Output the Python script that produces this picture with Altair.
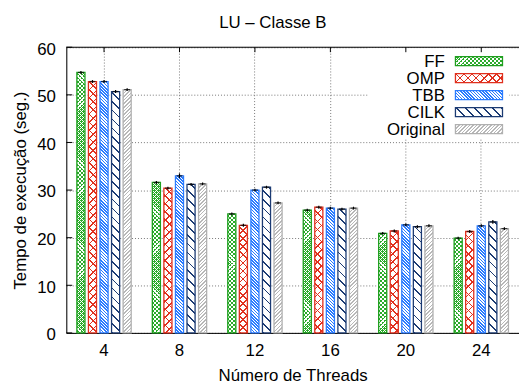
import altair as alt
import pandas as pd

# ---------------- data ----------------
threads = [4, 8, 12, 16, 20, 24]
series = ["FF", "OMP", "TBB", "CILK", "Original"]
ff_vals = [54.7, 31.6, 25.0, 25.8, 20.9, 19.9]
omp_vals = [52.8, 30.4, 22.6, 26.4, 21.4, 21.3]
tbb_vals = [52.8, 33.0, 30.0, 26.2, 22.7, 22.5]
cilk_vals = [50.7, 31.2, 30.6, 26.0, 22.3, 23.3]
orig_vals = [51.1, 31.3, 27.3, 26.2, 22.5, 21.9]
ff_err = [0.3, 0.3, 0.3, 0.3, 0.3, 0.3]
omp_err = [0.3, 0.3, 0.3, 0.3, 0.3, 0.3]
tbb_err = [0.3, 0.5, 0.3, 0.3, 0.3, 0.3]
cilk_err = [0.3, 0.3, 0.3, 0.3, 0.3, 0.4]
orig_err = [0.3, 0.3, 0.3, 0.3, 0.3, 0.3]
y_ticks = [0, 10, 20, 30, 40, 50, 60]
title_text = "LU – Classe B"

vals = {"FF": ff_vals, "OMP": omp_vals, "TBB": tbb_vals, "CILK": cilk_vals, "Original": orig_vals}
errs = {"FF": ff_err, "OMP": omp_err, "TBB": tbb_err, "CILK": cilk_err, "Original": orig_err}

rows = []
for s in series:
    for t, v, e in zip(threads, vals[s], errs[s]):
        rows.append({"series": s, "threads": t, "value": v, "lo": v - e, "hi": v + e})
df = pd.DataFrame(rows)

# ---------------- styling ----------------
FONT = "Liberation Sans, Arial, Helvetica, sans-serif"
W, H = 458, 289
YMAX = 60
PX = H / YMAX
PI_X, PI_O = 0.28, 0.3
step = W / 6
band = step * (1 - PI_X)
BW = band / (5 - PI_O) * (1 - PI_O)

CLEAR = "rgba(255,255,255,0)"
line_col = {"FF": "#1f9f1f", "OMP": "#e0301e", "TBB": "#2a7bff", "CILK": "#1c3b73", "Original": "#b0b0b0"}
base_col = {"FF": "#2bab2b", "OMP": "white", "TBB": "white", "CILK": "white", "Original": "white"}
patterns = {
    "FF": [("/", 4.0, 1.1, "white"), ("\\", 4.0, 1.1, "white")],
    "OMP": [("/", 8.2, 1.6, "#e0301e"), ("\\", 8.2, 1.6, "#e0301e")],
    "TBB": [("\\", 3.2, 1.6, "#2a7bff")],
    "CILK": [("\\", 9.0, 1.7, "#1c3b73")],
    "Original": [("/", 3.6, 1.5, "#b8b8b8")],
}


def stripes(w, h, d, s, t, color):
    r = h / w
    k = (1 + r) / (1 + r * r)
    if d == "/":
        x1, y1, x2, y2 = 0, 0, k, r * k
    else:
        x1, y1, x2, y2 = 0, 1, k, 1 - r * k
    n = (w + h) / s
    f = t / s
    stops = []
    i = 0
    while i / n < 1:
        a = round(i / n, 5)
        b = round(min((i + f) / n, 1), 5)
        stops += [{"offset": a, "color": CLEAR}, {"offset": a, "color": color},
                  {"offset": b, "color": color}, {"offset": b, "color": CLEAR}]
        i += 1
    return {"gradient": "linear", "x1": x1, "y1": round(y1, 6), "x2": round(x2, 6),
            "y2": round(y2, 6), "stops": stops}


x_enc = alt.X("threads:O", sort=threads,
              scale=alt.Scale(paddingInner=PI_X, paddingOuter=PI_X / 2),
              axis=alt.Axis(title="Número de Threads", labelAngle=0, bandPosition=0.5,
                            grid=True, gridDash=[1, 2], gridColor="#777", gridWidth=1,
                            ticks=False, tickSize=0, labelPadding=10, labelFontSize=17,
                            labelFont=FONT, labelColor="black", domainColor="black",
                            titleFont=FONT, titleFontSize=17, titleFontWeight="normal",
                            titleColor="black", titleBaseline="alphabetic", titleY=48.5))
xo_enc = alt.XOffset("series:N", sort=series, scale=alt.Scale(paddingInner=PI_O, paddingOuter=0))
y_axis = alt.Axis(title="Tempo de execução (seg.)", values=y_ticks, grid=True, gridDash=[1, 2],
                  gridColor="#777", gridWidth=1, ticks=False, tickSize=0, labelPadding=11,
                  labelFontSize=17, labelFont=FONT, labelColor="black", labelOffset=2,
                  domainColor="black", titleFont=FONT, titleFontSize=17,
                  titleFontWeight="normal", titleColor="black", titleAngle=270,
                  titleBaseline="alphabetic", titleX=-41.5, titleY=H / 2, titleAlign="center")
y_scale = alt.Scale(domain=[0, YMAX], nice=False, zero=True)


def y_enc(field):
    return alt.Y(f"{field}:Q", scale=y_scale, axis=y_axis)


base = alt.Chart(df)

layers = []
# base fill
layers.append(base.mark_bar().encode(
    x=x_enc, xOffset=xo_enc, y=y_enc("value"),
    fill=alt.Fill("series:N", scale=alt.Scale(domain=series, range=[base_col[s] for s in series]),
                  legend=None)))
# stripe layers
for j in range(2):
    conds = []
    for s in series:
        if len(patterns[s]) <= j:
            continue
        d, sp, th, col = patterns[s][j]
        for t, v in zip(threads, vals[s]):
            conds.append({"test": f"datum.series === '{s}' && datum.threads === {t}",
                          "value": stripes(BW, v * PX, d, sp, th, col)})
    layers.append(base.mark_bar().encode(
        x=x_enc, xOffset=xo_enc, y=y_enc("value"),
        fill=alt.FillValue(value=CLEAR, condition=conds)))
# outline
layers.append(base.mark_bar(filled=False, strokeWidth=1.3).encode(
    x=x_enc, xOffset=xo_enc, y=y_enc("value"),
    stroke=alt.Stroke("series:N", scale=alt.Scale(domain=series, range=[line_col[s] for s in series]),
                      legend=None)))
# error bars
layers.append(base.mark_rule(color="black", strokeWidth=1.2).encode(
    x=x_enc, xOffset=xo_enc, y=y_enc("lo"), y2="hi:Q"))
layers.append(base.mark_tick(color="black", orient="horizontal", size=6, thickness=1.3).encode(
    x=x_enc, xOffset=xo_enc, y=y_enc("value")))

# legend (key box)
one = alt.Data(values=[{}])
layers.append(alt.Chart(one).mark_rect(fill="white").encode(
    x=alt.value(305), x2=alt.value(448), y=alt.value(1), y2=alt.value(92)))
LX1, LX2 = 393.7, 441.3
for i, s in enumerate(series):
    yc = 14 + 17.2 * i
    y1, y2 = yc - 4.5, yc + 4.5
    layers.append(alt.Chart(one).mark_text(text=s, align="right", baseline="middle", font=FONT,
                                            fontSize=17, color="black").encode(
        x=alt.value(383), y=alt.value(yc + 1)))
    layers.append(alt.Chart(one).mark_rect(fill=base_col[s]).encode(
        x=alt.value(LX1), x2=alt.value(LX2), y=alt.value(y1), y2=alt.value(y2)))
    for d, sp, th, col in patterns[s]:
        layers.append(alt.Chart(one).mark_rect(fill=stripes(LX2 - LX1, 9, d, sp, th, col)).encode(
            x=alt.value(LX1), x2=alt.value(LX2), y=alt.value(y1), y2=alt.value(y2)))
    layers.append(alt.Chart(one).mark_rect(filled=False, stroke=line_col[s], strokeWidth=1.3).encode(
        x=alt.value(LX1), x2=alt.value(LX2), y=alt.value(y1), y2=alt.value(y2)))

# inward ticks and top border
layers.append(alt.Chart(pd.DataFrame({"value": y_ticks})).mark_rule(color="black").encode(
    y=y_enc("value"), x=alt.value(0), x2=alt.value(6)))
layers.append(alt.Chart(pd.DataFrame({"threads": threads})).mark_rule(color="black").encode(
    x=x_enc, y=alt.value(0), y2=alt.value(5)))
layers.append(alt.Chart(one).mark_rule(color="black").encode(
    x=alt.value(0), x2=alt.value(W), y=alt.value(0)))

# chart title
layers.append(alt.Chart(one).mark_text(text=title_text, align="center", baseline="alphabetic",
                                        font=FONT, fontSize=17, color="black").encode(
    x=alt.value(209), y=alt.value(-19.8)))

chart = alt.layer(*layers).properties(
    width=W, height=H,
    autosize=alt.AutoSizeParams(type="none"),
    padding={"left": 59, "top": 37.5, "right": 0, "bottom": 50},
).configure_view(strokeWidth=0).configure(background="white")

chart.save("out.html", embed_options={"renderer": "svg", "actions": False})
